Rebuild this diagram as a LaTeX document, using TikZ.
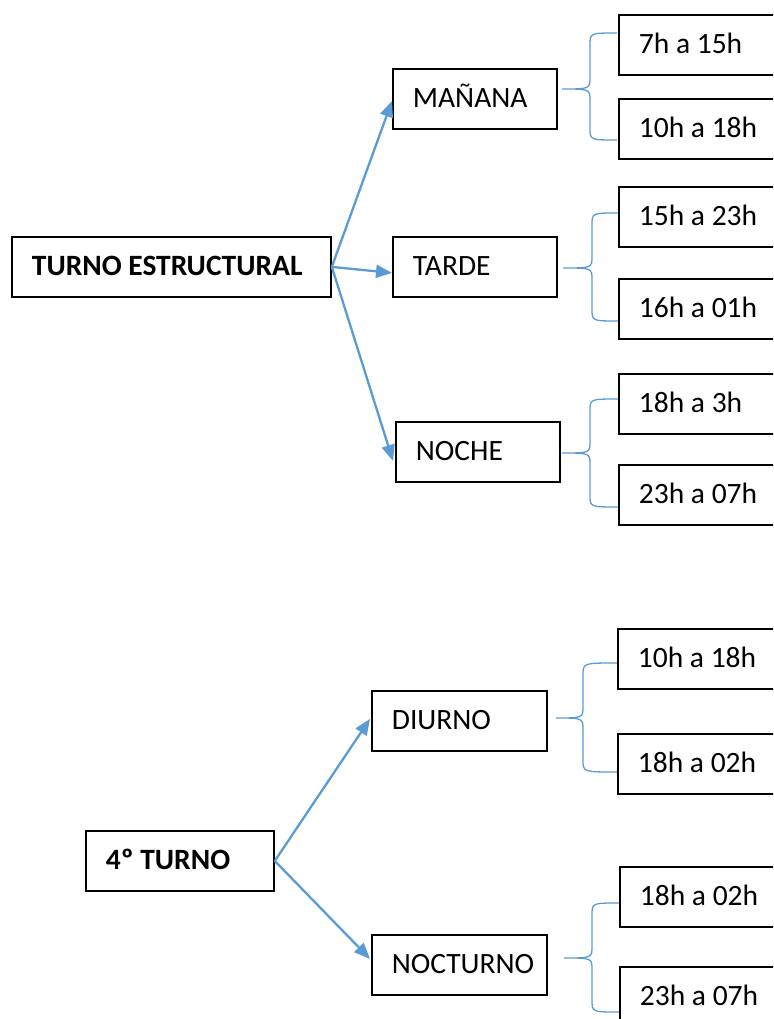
\documentclass[tikz,border=0pt]{standalone}
\usepackage{fontspec}
\setmainfont{Carlito}
\usetikzlibrary{arrows.meta,calc}
\definecolor{blu}{HTML}{5B9BD5}
\newcommand\wbrace[6]{%
  \draw[brc] (#6,#4) .. controls (#3,#4) .. (#3,#4+12) -- (#3,#2-12)
    .. controls (#3,#2) .. (#1,#2)
    .. controls (#3,#2) .. (#3,#2+12) -- (#3,#5-12)
    .. controls (#3,#5) .. (#6,#5);}
\begin{document}
\begin{tikzpicture}[x=1pt,y=-1pt,
  box/.style={draw=black, line width=1.8pt, anchor=north west, minimum height=60pt,
    inner xsep=20pt, inner ysep=0pt, align=flush left, text height=22pt, text depth=4pt,
    font=\fontsize{29.5}{35}\selectfont, text width=#1},
  box/.default=142pt,
  arr/.style={draw=blu, line width=2.3pt, -{Triangle[length=16pt,width=13pt]}},
  brc/.style={draw=blu, line width=1.3pt}]
\useasboundingbox (0,0) rectangle (773,1019);
\clip (0,0) rectangle (773,1019);
% top group
\node[box=279pt, font=\fontsize{29.5}{35}\selectfont\bfseries] (te) at (11,236) {TURNO ESTRUCTURAL};
\node[box=124pt] (man) at (392,68) {MAÑANA};
\node[box=124pt] (tar) at (392,236) {TARDE};
\node[box=124pt] (noc) at (395,421) {NOCHE};
\node[box] (r1) at (618,14) {7h a 15h};
\node[box] (r2) at (618,98) {10h a 18h};
\node[box] (r3) at (618,186) {15h a 23h};
\node[box] (r4) at (618,278) {16h a 01h};
\node[box] (r5) at (618,373) {18h a 3h};
\node[box] (r6) at (618,464) {23h a 07h};
\draw[arr] (te.east) -- ($(man.west)+(0,2)$);
\draw[arr] (te.east) -- ($(tar.west)+(0,6)$);
\draw[arr] (te.east) -- ($(noc.west)+(-2,9)$);
\wbrace{562}{89}{590}{33}{140}{617}
\wbrace{563}{268}{592}{213}{321}{618}
\wbrace{562}{453}{590}{399}{507}{618}
% bottom group
\node[box=148pt, font=\fontsize{29.5}{35}\selectfont\bfseries] (cuarto) at (85,830) {4º TURNO};
\node[box=135pt] (diu) at (371,690) {DIURNO};
\node[box=135pt] (noct) at (371,934) {NOCTURNO};
\node[box] (r7) at (617,628) {10h a 18h};
\node[box] (r8) at (617,733) {18h a 02h};
\node[box] (r9) at (619,866) {18h a 02h};
\node[box] (r10) at (619,966) {23h a 07h};
\draw[arr] (cuarto.east) -- ($(diu.west)+(-1,-2)$);
\draw[arr] (cuarto.east) -- ($(noct.west)+(-1,-6)$);
\wbrace{556}{718}{583}{663}{772}{617}
\wbrace{564}{958}{592}{903}{1012}{619}
\end{tikzpicture}
\end{document}
